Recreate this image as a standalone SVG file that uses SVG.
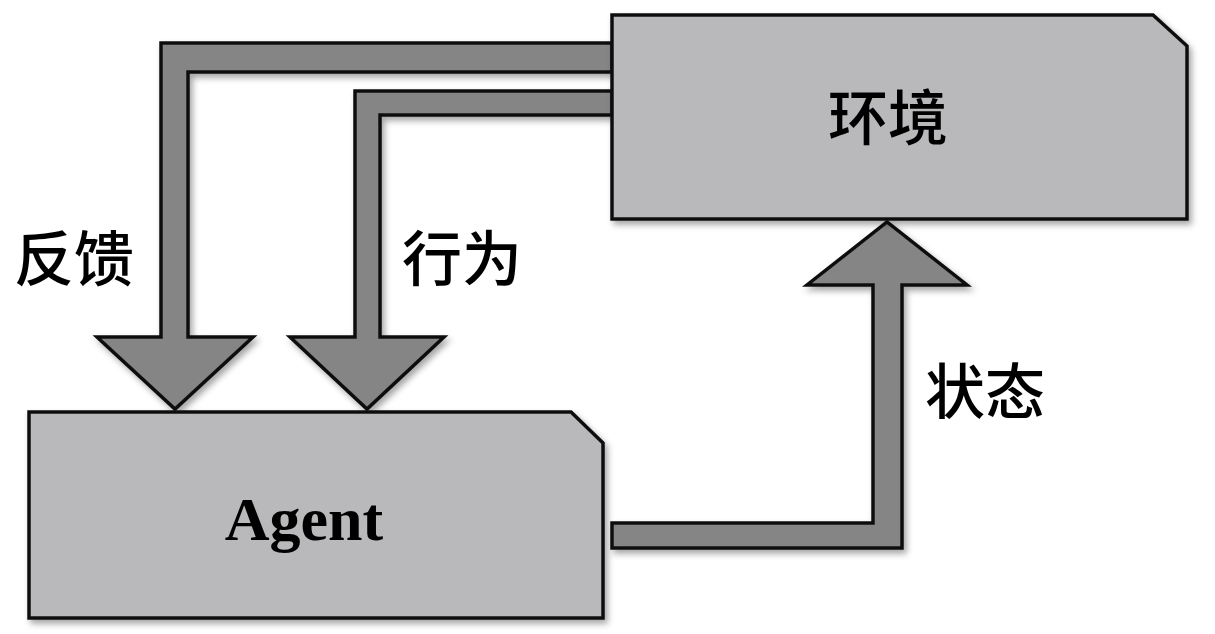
<svg xmlns="http://www.w3.org/2000/svg" width="1215" height="634" viewBox="0 0 1215 634">
  <defs>
    <filter id="shadow" x="-10%" y="-10%" width="130%" height="130%">
      <feDropShadow dx="3" dy="4" stdDeviation="3" flood-color="#000" flood-opacity="0.35"/>
    </filter>
    <style>
      .box { fill: #b9b8ba; stroke: #111; stroke-width: 3.5; stroke-linejoin: miter; filter: url(#shadow); }
      .arrow { fill: #858585; stroke: #111; stroke-width: 3.5; stroke-linejoin: miter; filter: url(#shadow); }
      .cjk { font-family: "Noto Sans CJK SC", "Noto Sans CJK TC", sans-serif; font-size: 60px; font-weight: 500; fill: #000; }
      .latin { font-family: "Liberation Serif", "Times New Roman", serif; font-weight: bold; font-size: 62px; fill: #000; }
    </style>
  </defs>
  <rect width="1215" height="634" fill="#ffffff"/>

  <g id="connectors">
    <path id="feedback" class="arrow" d="M612,43 H161 V337 H97 L175,409 L253,337 H188 V72 H612 Z"/>
    <path id="action" class="arrow" d="M612,91 H355 V337 H290 L367,409 L444,337 H380 V115 H612 Z"/>
    <path id="state" class="arrow" d="M612,523 H873 V285 H807 L887,222 L967,285 H902 V548 H612 Z"/>
  </g>

  <g id="env">
    <path class="box" d="M612,15 H1153 L1187,46 V219 H612 Z"/>
    <text class="cjk" x="888" y="140" text-anchor="middle">环境</text>
  </g>

  <g id="agent">
    <path class="box" d="M29,412 H571 L603,443 V618 H29 Z"/>
    <text class="latin" x="304" y="540" text-anchor="middle">Agent</text>
  </g>

  <g id="labels">
    <text class="cjk" x="74" y="281" text-anchor="middle">反馈</text>
    <text class="cjk" x="462" y="281" text-anchor="middle">行为</text>
    <text class="cjk" x="985" y="414" text-anchor="middle">状态</text>
  </g>
</svg>
